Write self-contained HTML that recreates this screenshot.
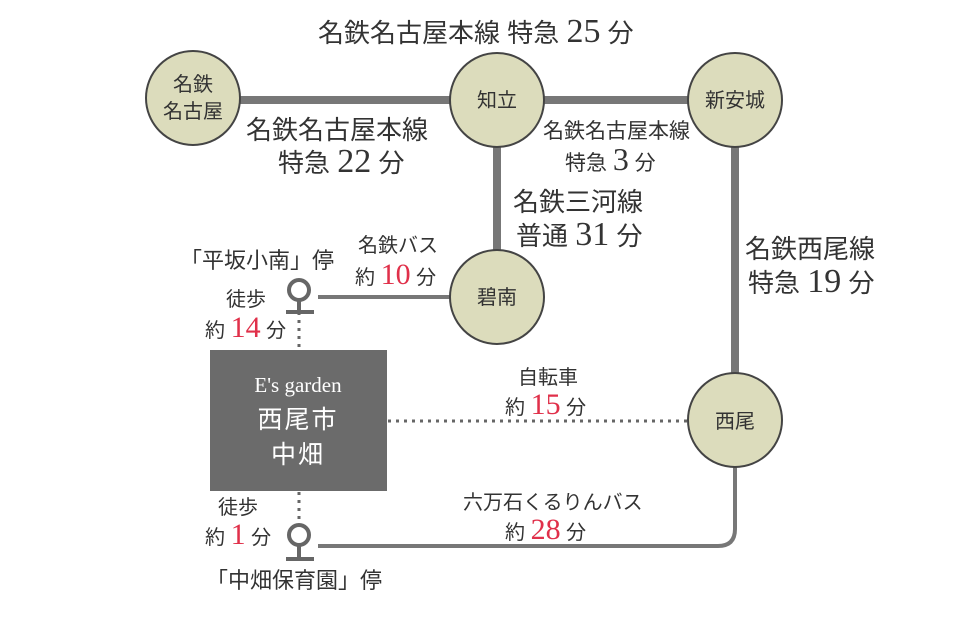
<!DOCTYPE html>
<html><head><meta charset="utf-8"><style>
html,body{margin:0;padding:0;background:#fff;}
svg{display:block;}
text{font-family:"Liberation Sans","Noto Sans CJK JP",sans-serif;fill:#333;}
.n{font-family:"Liberation Serif","Noto Serif CJK SC",serif;}
.r{fill:#e0304a;}
</style></head><body>
<svg width="954" height="620" viewBox="0 0 954 620" xmlns="http://www.w3.org/2000/svg">
<g stroke="#777" fill="none">
<line x1="193" y1="100" x2="735" y2="100" stroke-width="8"/>
<line x1="497" y1="100" x2="497" y2="297" stroke-width="8"/>
<line x1="735" y1="100" x2="735" y2="420" stroke-width="8"/>
<line x1="318" y1="297" x2="497" y2="297" stroke-width="4"/>
<path d="M318 546 H718 Q735 546 735 529 V420" stroke-width="4"/>
</g>
<g stroke="#666" stroke-width="3" stroke-dasharray="3 5" fill="none">
<line x1="388" y1="421" x2="690" y2="421"/>
<line x1="299" y1="312" x2="299" y2="350"/>
<line x1="299" y1="492" x2="299" y2="522"/>
</g>
<g fill="#dcdcbc" stroke="#444" stroke-width="2">
<circle cx="193" cy="98" r="47"/>
<circle cx="497" cy="100" r="47"/>
<circle cx="735" cy="100" r="47"/>
<circle cx="497" cy="297" r="47"/>
<circle cx="735" cy="420" r="47"/>
</g>
<g stroke="#666" stroke-width="4" fill="none">
<circle cx="299" cy="290" r="10"/>
<line x1="299" y1="300" x2="299" y2="312"/>
<line x1="286" y1="312" x2="314" y2="312"/>
<circle cx="299" cy="535" r="10"/>
<line x1="299" y1="545" x2="299" y2="557"/>
<line x1="286" y1="559" x2="314" y2="559"/>
</g>
<rect x="210" y="350" width="177" height="141" fill="#6b6b6b"/>
<text x="298" y="392" text-anchor="middle" class="n" font-size="21" style="fill:#fff">E's garden</text>
<text x="298" y="428" text-anchor="middle" font-size="25" style="fill:#fff" letter-spacing="2">西尾市</text>
<text x="298" y="463" text-anchor="middle" font-size="25" style="fill:#fff" letter-spacing="2">中畑</text>
<g font-size="20" text-anchor="middle">
<text x="193" y="91">名鉄</text>
<text x="193" y="118">名古屋</text>
<text x="497" y="107">知立</text>
<text x="735" y="107">新安城</text>
<text x="497" y="304">碧南</text>
<text x="735" y="428">西尾</text>
</g>
<g font-size="26">
<text x="318" y="42">名鉄名古屋本線 特急 <tspan class="n" font-size="34">25</tspan> 分</text>
<text x="246" y="139">名鉄名古屋本線</text>
<text x="278" y="172">特急 <tspan class="n" font-size="34">22</tspan> 分</text>
<text x="513" y="211">名鉄三河線</text>
<text x="516" y="245">普通 <tspan class="n" font-size="34">31</tspan> 分</text>
<text x="745" y="258">名鉄西尾線</text>
<text x="748" y="292">特急 <tspan class="n" font-size="34">19</tspan> 分</text>
</g>
<g font-size="21">
<text x="543" y="138">名鉄名古屋本線</text>
<text x="565" y="170">特急 <tspan class="n" font-size="32">3</tspan> 分</text>
</g>
<g font-size="22">
<text x="180" y="268">「平坂小南」停</text>
<text x="206" y="588">「中畑保育園」停</text>
</g>
<g font-size="20">
<text x="358" y="252">名鉄バス</text>
<text x="355" y="284">約 <tspan class="n r" font-size="30">10</tspan> 分</text>
<text x="226" y="306">徒歩</text>
<text x="205" y="337">約 <tspan class="n r" font-size="30">14</tspan> 分</text>
<text x="218" y="514">徒歩</text>
<text x="205" y="544">約 <tspan class="n r" font-size="30">1</tspan> 分</text>
<text x="518" y="384">自転車</text>
<text x="505" y="414">約 <tspan class="n r" font-size="30">15</tspan> 分</text>
<text x="463" y="509">六万石くるりんバス</text>
<text x="505" y="539">約 <tspan class="n r" font-size="30">28</tspan> 分</text>
</g>
</svg>
</body></html>
